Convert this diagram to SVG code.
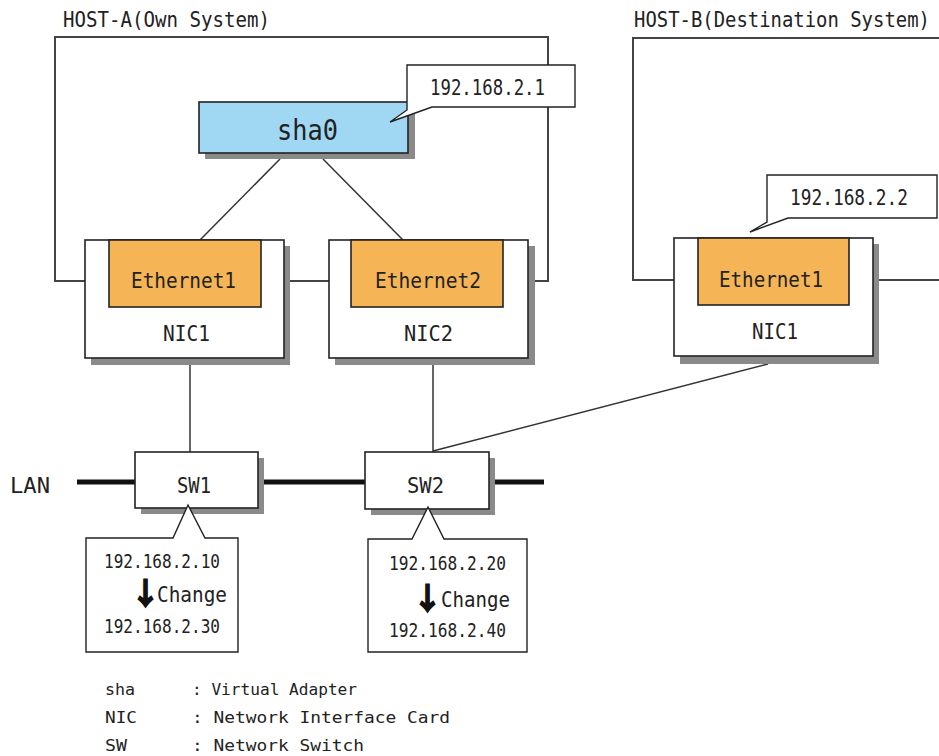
<svg xmlns="http://www.w3.org/2000/svg" width="939" height="756" viewBox="0 0 939 756">
<style>
.t{font-family:"DejaVu Sans Mono","Liberation Mono",monospace;fill:#222;font-size:22px}
.s{font-size:19px}
.lg{font-size:16px}
.host{fill:none;stroke:#444;stroke-width:2}
.box{fill:#fff;stroke:#222;stroke-width:1.6}
.shadow{fill:#8a8a8a}
.eth{fill:#f5b556;stroke:#222;stroke-width:1.6}
.virt{fill:#a0d8f4;stroke:#222;stroke-width:1.6}
.call{fill:#fff;stroke:#222;stroke-width:1.4;stroke-linejoin:miter}
.ln{stroke:#333;stroke-width:1.5;fill:none}
.lan{stroke:#111;stroke-width:5;fill:none}
.arr{font-family:"Noto Sans CJK JP","DejaVu Sans",sans-serif;font-weight:bold;font-size:30px;fill:#111;stroke:#111;stroke-width:1.6}
</style>
<rect width="939" height="756" fill="#fff"/>

<g id="hostA">
<rect class="host" x="55" y="37" width="493" height="244"/>
<text class="t" x="63" y="27" textLength="207" lengthAdjust="spacingAndGlyphs">HOST-A(Own System)</text>
</g>
<g id="hostB">
<rect class="host" x="633" y="38" width="320" height="242"/>
<text class="t" transform="translate(634,27) scale(0.86,1)" x="0" y="0">HOST-B(Destination System)</text>
</g>

<g id="connectors">
<line class="ln" x1="280" y1="159" x2="200" y2="240"/>
<line class="ln" x1="323" y1="159" x2="403" y2="240"/>
<line class="ln" x1="190" y1="358" x2="190" y2="452"/>
<line class="ln" x1="433" y1="358" x2="433" y2="452"/>
<line class="ln" x1="768" y1="364" x2="433" y2="451"/>
<line class="lan" x1="77" y1="482" x2="135" y2="482"/>
<line class="lan" x1="258" y1="482" x2="365" y2="482"/>
<line class="lan" x1="489" y1="482" x2="544" y2="482"/>
</g>

<g id="sha0">
<rect class="shadow" x="205" y="108" width="210" height="51"/>
<rect class="virt" x="199" y="102" width="209" height="51"/>
<text class="t" x="277" y="140" textLength="61" lengthAdjust="spacingAndGlyphs" style="font-size:29px">sha0</text>
</g>

<g id="callout-sha0">
<path class="call" d="M407,65 H575 V107 H432 L390,122 L407,110 Z"/>
<text class="t" x="430" y="95" textLength="115" lengthAdjust="spacingAndGlyphs">192.168.2.1</text>
</g>

<g id="nic1A">
<rect class="shadow" x="91" y="246" width="199" height="119"/>
<rect class="box" x="85" y="240" width="199" height="118"/>
<rect class="eth" x="109" y="240" width="152" height="67"/>
<text class="t" x="131" y="288" textLength="105" lengthAdjust="spacingAndGlyphs">Ethernet1</text>
<text class="t" x="163" y="341" textLength="47" lengthAdjust="spacingAndGlyphs">NIC1</text>
</g>

<g id="nic2A">
<rect class="shadow" x="335" y="246" width="200" height="119"/>
<rect class="box" x="329" y="240" width="199" height="118"/>
<rect class="eth" x="351" y="240" width="152" height="67"/>
<text class="t" x="375" y="288" textLength="106" lengthAdjust="spacingAndGlyphs">Ethernet2</text>
<text class="t" x="404" y="341" textLength="49" lengthAdjust="spacingAndGlyphs">NIC2</text>
</g>

<g id="nic1B">
<rect class="shadow" x="680" y="244" width="199" height="120"/>
<rect class="box" x="674" y="238" width="199" height="118"/>
<rect class="eth" x="698" y="238" width="151" height="67"/>
<text class="t" x="719" y="287" textLength="104" lengthAdjust="spacingAndGlyphs">Ethernet1</text>
<text class="t" x="752" y="339" textLength="46" lengthAdjust="spacingAndGlyphs">NIC1</text>
</g>

<g id="callout-hostB">
<path class="call" d="M767,175 H937 V218 H788 L750,232 L767,222 Z"/>
<text class="t" x="790" y="205" textLength="118" lengthAdjust="spacingAndGlyphs">192.168.2.2</text>
</g>

<g id="lan-label">
<text class="t" x="10" y="493" textLength="40" lengthAdjust="spacingAndGlyphs">LAN</text>
</g>

<g id="sw1">
<rect class="shadow" x="141" y="458" width="123" height="56"/>
<rect class="box" x="135" y="452" width="123" height="56"/>
<text class="t" x="177" y="493" textLength="34" lengthAdjust="spacingAndGlyphs">SW1</text>
</g>

<g id="sw2">
<rect class="shadow" x="371" y="458" width="124" height="57"/>
<rect class="box" x="365" y="452" width="124" height="57"/>
<text class="t" x="407" y="493" textLength="37" lengthAdjust="spacingAndGlyphs">SW2</text>
</g>

<g id="callout-sw1">
<path class="call" d="M86,538 H173 L188,505 L205,538 H238 V652 H86 Z"/>
<text class="t s" x="104" y="568" textLength="116" lengthAdjust="spacingAndGlyphs">192.168.2.10</text>
<text class="arr" x="145.5" y="604" text-anchor="middle">↓</text>
<text class="t" x="157" y="602" textLength="70" lengthAdjust="spacingAndGlyphs">Change</text>
<text class="t s" x="104" y="633" textLength="116" lengthAdjust="spacingAndGlyphs">192.168.2.30</text>
</g>

<g id="callout-sw2">
<path class="call" d="M368,539 H412 L428,507 L444,539 H527 V652 H368 Z"/>
<text class="t s" x="389" y="570" textLength="117" lengthAdjust="spacingAndGlyphs">192.168.2.20</text>
<text class="arr" x="427.5" y="609" text-anchor="middle">↓</text>
<text class="t" x="441" y="607" textLength="69" lengthAdjust="spacingAndGlyphs">Change</text>
<text class="t s" x="389" y="637" textLength="117" lengthAdjust="spacingAndGlyphs">192.168.2.40</text>
</g>

<g id="legend">
<text class="t lg" x="105" y="695" textLength="30" lengthAdjust="spacingAndGlyphs">sha</text>
<text class="t lg" x="192" y="695" textLength="165" lengthAdjust="spacingAndGlyphs">: Virtual Adapter</text>
<text class="t lg" x="105" y="723" textLength="32" lengthAdjust="spacingAndGlyphs">NIC</text>
<text class="t lg" x="192" y="723" textLength="258" lengthAdjust="spacingAndGlyphs">: Network Interface Card</text>
<text class="t lg" x="105" y="751" textLength="22" lengthAdjust="spacingAndGlyphs">SW</text>
<text class="t lg" x="192" y="751" textLength="172" lengthAdjust="spacingAndGlyphs">: Network Switch</text>
</g>
</svg>
